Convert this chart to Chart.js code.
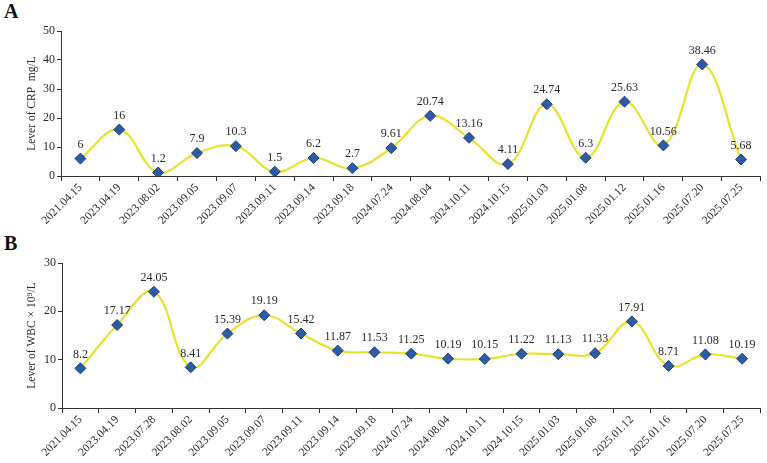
<!DOCTYPE html>
<html>
<head>
<meta charset="utf-8">
<script src="https://cdn.jsdelivr.net/npm/chart.js@4"></script>
<style>
  body { margin: 0; background: #fff; }
  #wrap { position: relative; width: 767px; height: 463px; }
  .panel { position: absolute; left: 0; }
  .tag { position: absolute; left: 4px; font: bold 20px "Liberation Serif", serif; color: #111; }
</style>
</head>
<body>
<div id="wrap">
  <div class="tag" style="top:0px">A</div>
  <canvas id="crpChart" class="panel" style="top:0px" width="767" height="231"></canvas>
  <div class="tag" style="top:232px">B</div>
  <canvas id="wbcChart" class="panel" style="top:231px" width="767" height="232"></canvas>
</div>
<script>
const crpDates = ['2021.04.15', '2023.04.19', '2023.08.02', '2023.09.05', '2023.09.07', '2023.09.11',
  '2023.09.14', '2023.09.18', '2024.07.24', '2024.08.04', '2024.10.11', '2024.10.15',
  '2025.01.03', '2025.01.08', '2025.01.12', '2025.01.16', '2025.07.20', '2025.07.25'];
const crpValues = [6, 16, 1.2, 7.9, 10.3, 1.5, 6.2, 2.7, 9.61, 20.74, 13.16, 4.11, 24.74, 6.3, 25.63, 10.56, 38.46, 5.68];

const wbcDates = ['2021.04.15', '2023.04.19', '2023.07.28', '2023.08.02', '2023.09.05', '2023.09.07',
  '2023.09.11', '2023.09.14', '2023.09.18', '2024.07.24', '2024.08.04', '2024.10.11',
  '2024.10.15', '2025.01.03', '2025.01.08', '2025.01.12', '2025.01.16', '2025.07.20', '2025.07.25'];
const wbcValues = [8.2, 17.17, 24.05, 8.41, 15.39, 19.19, 15.42, 11.87, 11.53, 11.25, 10.19, 10.15,
  11.22, 11.13, 11.33, 17.91, 8.71, 11.08, 10.19];

const serif = '"Liberation Serif", "Times New Roman", serif';
const textColor = '#2a2a2a';
const axisColor = '#333';

// draws the number above each point
const valueLabels = {
  id: 'valueLabels',
  afterDatasetsDraw(chart) {
    const ctx = chart.ctx;
    const ds = chart.data.datasets[0];
    const meta = chart.getDatasetMeta(0);
    ctx.save();
    ctx.font = '12px ' + serif;
    ctx.fillStyle = textColor;
    ctx.textAlign = 'center';
    ctx.textBaseline = 'bottom';
    meta.data.forEach((pt, i) => {
      ctx.fillText(String(ds.data[i]), pt.x, pt.y - 8);
    });
    ctx.restore();
  }
};

function makeChart(id, labels, values, yMax, yTitle, leftWidth, topPad) {
  const ctx = document.getElementById(id).getContext('2d');
  return new Chart(ctx, {
    type: 'line',
    data: {
      labels: labels,
      datasets: [{
        data: values,
        borderColor: '#e6e22e',
        borderWidth: 2.2,
        tension: 0.4,
        pointStyle: 'rectRot',
        pointRadius: 5.5,
        pointBackgroundColor: '#2d5ba6',
        pointBorderColor: '#1c3d78',
        pointBorderWidth: 1,
        fill: false
      }]
    },
    options: {
      responsive: false,
      animation: false,
      layout: { padding: { top: topPad, right: 1, left: 0, bottom: 0 } },
      plugins: { legend: { display: false }, tooltip: { enabled: false } },
      scales: {
        x: {
          offset: true,
          grid: { display: true, drawOnChartArea: false, offset: true, tickLength: 5, color: axisColor },
          border: { display: true, color: axisColor, width: 1 },
          ticks: {
            minRotation: 45, maxRotation: 45, autoSkip: false, padding: 0,
            color: textColor, font: { family: serif, size: 11.5 }
          },
          afterFit(scale) { scale.height = 55; scale.paddingLeft = 0; scale.paddingRight = 0; }
        },
        y: {
          min: 0, max: yMax,
          grid: { display: true, drawOnChartArea: false, tickLength: 4, color: axisColor },
          border: { display: true, color: axisColor, width: 1 },
          ticks: { stepSize: 10, padding: 2, color: textColor, font: { family: serif, size: 12 } },
          title: {
            display: true, text: yTitle, color: textColor,
            font: { family: serif, size: 11.5 }, padding: { top: 25, bottom: 2 }
          },
          afterFit(scale) { scale.width = leftWidth; }
        }
      }
    },
    plugins: [valueLabels]
  });
}

makeChart('crpChart', crpDates, crpValues, 50, 'Lever of CRP  mg/L', 61, 31);
makeChart('wbcChart', wbcDates, wbcValues, 30, 'Lever of WBC \u00d7 10\u2079/L', 62, 32);
</script>
</body>
</html>
